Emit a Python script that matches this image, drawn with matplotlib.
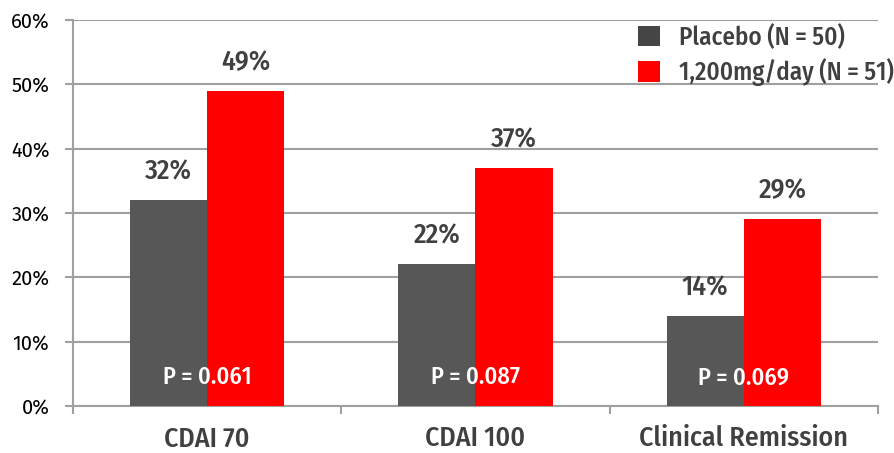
import matplotlib
matplotlib.use("Agg")
import matplotlib.pyplot as plt
from matplotlib.patches import Patch
import numpy as np

categories = ["CDAI 70", "CDAI 100", "Clinical Remission"]
placebo = [32, 22, 14]
treatment = [49, 37, 29]
p_values = ["P = 0.061", "P = 0.087", "P = 0.069"]
series_names = ["Placebo (N = 50)", "1,200mg/day (N = 51)"]

GREY = "#575757"
RED = "#ff0000"
TEXT = "#404040"
LINE = "#a0a0a0"

plt.rcParams["font.family"] = ["Fira Sans Condensed", "DejaVu Sans"]


def plot_chart():
    fig = plt.figure(figsize=(8.95, 4.53), dpi=100)
    ax = fig.add_axes([73 / 895, 1 - 406 / 453, (878 - 73) / 895, (406 - 20) / 453])

    x = np.arange(len(categories))
    w = 0.287
    b1 = ax.bar(x - w / 2, placebo, w, color=GREY, zorder=3)
    b2 = ax.bar(x + w / 2, treatment, w, color=RED, zorder=3)

    # percentage labels above each bar
    for bars, vals in ((b1, placebo), (b2, treatment)):
        for r, v in zip(bars, vals):
            ax.annotate(f"{v}%", (r.get_x() + r.get_width() / 2, v),
                        xytext=(0, 11), textcoords="offset points",
                        ha="center", va="bottom", fontsize=20,
                        fontweight="medium", color=TEXT)

    for xi, p in zip(x, p_values):
        ax.text(xi, 4.4, p, ha="center", va="center", fontsize=17.5,
                fontweight="medium", color="white", zorder=4)

    ax.set_xlim(-0.5, 2.5)
    ax.set_ylim(0, 60)
    ax.set_yticks(range(0, 61, 10))
    ax.set_yticklabels([f"{t}%" for t in range(0, 61, 10)], family="Fira Sans")
    ax.yaxis.grid(True, color=LINE, linewidth=1.5, zorder=0)
    ax.set_axisbelow(True)

    ax.set_xticks(x)
    ax.set_xticklabels(categories, fontsize=20, fontweight="medium", color=TEXT)
    ax.set_xticks([-0.5, 0.5, 1.5, 2.5], minor=True)
    ax.tick_params(axis="x", which="major", length=0, pad=14)
    ax.tick_params(axis="x", which="minor", length=6, width=1.5, color=LINE)
    ax.tick_params(axis="y", length=6, width=1.5, color=LINE, pad=11,
                   labelsize=14.5, labelcolor="black")

    for s in ("top", "right"):
        ax.spines[s].set_visible(False)
    for s in ("left", "bottom"):
        ax.spines[s].set_color(LINE)
        ax.spines[s].set_linewidth(1.5)

    handles = [Patch(facecolor="#454545"), Patch(facecolor=RED)]
    fig.legend(handles, series_names, loc="upper left",
               bbox_to_anchor=(638 / 895, 1 - 24 / 453),
               frameon=False, borderpad=0, borderaxespad=0,
               handlelength=0.9, handleheight=0.9, handletextpad=0.75,
               labelspacing=0.32,
               prop={"size": 18, "weight": "medium"}, labelcolor=TEXT)

    fig.savefig("out.png", dpi=100)
    plt.close(fig)


if __name__ == "__main__":
    plot_chart()
